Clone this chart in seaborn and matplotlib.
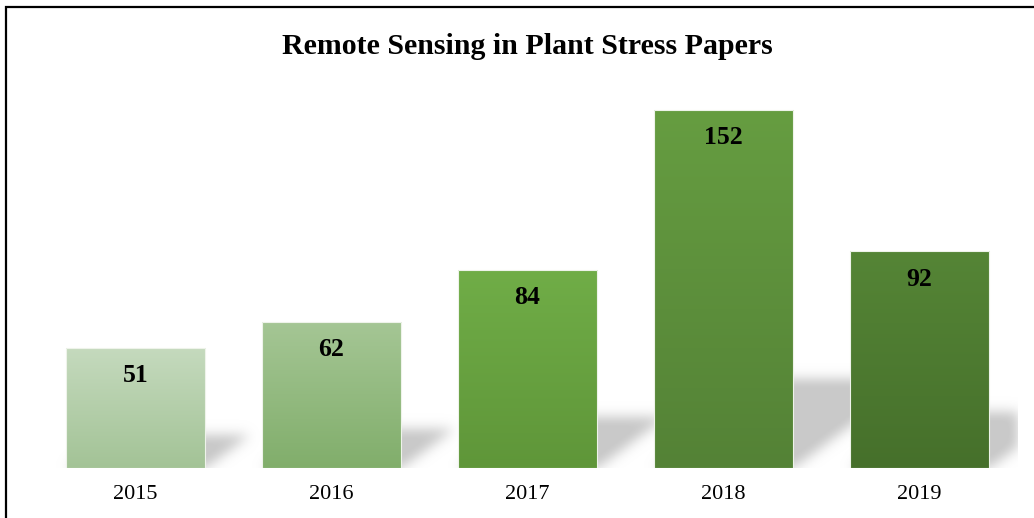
import numpy as np
import pandas as pd
import matplotlib
matplotlib.use("Agg")
import matplotlib.pyplot as plt
from matplotlib.colors import to_rgb
from matplotlib.patches import Rectangle
import seaborn as sns

# Data
years = ["2015", "2016", "2017", "2018", "2019"]
papers = [51, 62, 84, 152, 92]

# Vertical gradient (top colour, bottom colour) for each bar
grad_top = ["#c5dabe", "#a5c695", "#70ad47", "#669d41", "#558536"]
grad_bottom = ["#a3c396", "#81ae6b", "#5f9639", "#548236", "#46702b"]

sns.set_theme(style="white")
plt.rcParams["font.family"] = ["Liberation Serif", "DejaVu Serif"]

W, H = 1034, 518
fig = plt.figure(figsize=(W / 100, H / 100), dpi=100)
ax_left, ax_bottom, ax_w, ax_h = 37.5, 50.0, 980.0, 376.8
ax = fig.add_axes([ax_left / W, ax_bottom / H, ax_w / W, ax_h / H])

df = pd.DataFrame({"year": years, "papers": papers})
sns.barplot(data=df, x="year", y="papers", hue="year", palette=grad_top,
            legend=False, width=0.71, ax=ax, zorder=2)

ymax = 160
ax.set_xlim(-0.5, len(years) - 0.5)
ax.set_ylim(0, ymax)

# Soft perspective shadows cast to the upper right of every bar
px_x = ax_w / (len(years))          # pixels per category
px_y = ax_h / ymax                  # pixels per value unit
ny, nx = int(ax_h), int(ax_w)
yy = np.arange(ny)[:, None] + 0.5   # pixels above baseline
xx = np.arange(nx)[None, :] + 0.5   # pixels from left of axes
mask = np.zeros((ny, nx))
for patch, v in zip(ax.patches, papers):
    x0 = (patch.get_x() + 0.5) * px_x
    x1 = x0 + patch.get_width() * px_x
    hs = 0.235 * v * px_y + 5
    k = 1.35
    inside = (yy <= hs) & (xx >= x0 + yy * k) & (xx <= x1 + yy * k)
    mask = np.maximum(mask, inside.astype(float))

def blur(a, sigma):
    r = int(3 * sigma)
    t = np.arange(-r, r + 1)
    g = np.exp(-t ** 2 / (2 * sigma ** 2))
    g /= g.sum()
    a = np.apply_along_axis(lambda m: np.convolve(m, g, mode="same"), 0, a)
    a = np.apply_along_axis(lambda m: np.convolve(m, g, mode="same"), 1, a)
    return a

mask = blur(np.pad(mask, ((20, 0), (0, 0))), 6.0)[20:]
shadow = np.zeros((ny, nx, 4))
shadow[..., :3] = 0.78
shadow[..., 3] = np.clip(mask * 1.05, 0, 1) * 0.95
ax.imshow(shadow, origin="lower", extent=(-0.5, len(years) - 0.5, 0, ymax),
          aspect="auto", zorder=0.5, interpolation="bilinear")

# Gradient fills clipped to each bar
for patch, ct, cb, v in zip(ax.patches, grad_top, grad_bottom, papers):
    bx, bw = patch.get_x(), patch.get_width()
    n = 256
    t = np.linspace(0, 1, n)[:, None]
    grad = (1 - t) * np.array(to_rgb(ct)) + t * np.array(to_rgb(cb))
    grad = grad[:, None, :]
    im = ax.imshow(grad, extent=(bx, bx + bw, 0, v), origin="upper",
                   aspect="auto", zorder=1.9, interpolation="bilinear")
    im.set_clip_path(patch)
    patch.set_facecolor("none")
    patch.set_edgecolor("#eef3ea")
    patch.set_linewidth(0.8)
    ax.annotate(str(v), (patch.get_x() + bw / 2, v), xytext=(0, -20),
                textcoords="offset points", ha="center", va="center",
                fontsize=18.5, fontweight="bold", color="black", zorder=3)

ax.set_xlabel("")
ax.set_ylabel("")
ax.set_yticks([])
ax.tick_params(axis="x", length=0, pad=12, labelsize=16, colors="black")
for s in ax.spines.values():
    s.set_visible(False)
ax.set_facecolor("none")

fig.text(527 / W, 1 - 46.5 / H, "Remote Sensing in Plant Stress Papers",
         ha="center", va="center", fontsize=21.5, fontweight="bold", color="black")

# Outer frame
fig.add_artist(Rectangle((5.5 / W, -0.1), 1.2, 1.1 - 7.5 / H,
                         transform=fig.transFigure, fill=False,
                         edgecolor="black", linewidth=1.6, zorder=10))

fig.savefig("out.png", dpi=100)
